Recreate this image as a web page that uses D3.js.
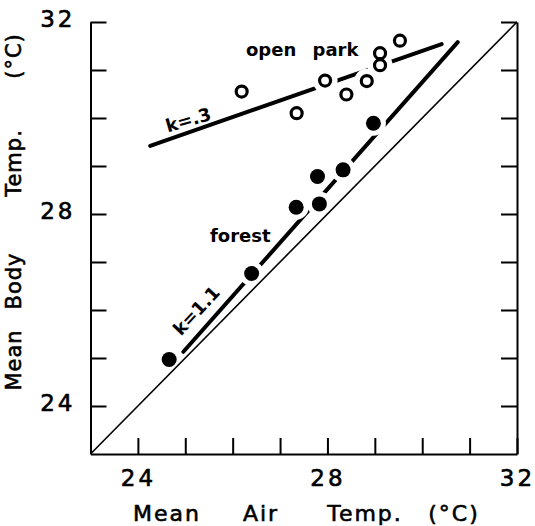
<!DOCTYPE html>
<html>
<head>
<meta charset="utf-8">
<script src="https://cdn.jsdelivr.net/npm/d3@7/dist/d3.min.js"></script>
<style>
  html, body { margin: 0; padding: 0; background: #fff; }
  svg { display: block; }
  text { fill: #000; font-family: "DejaVu Sans", sans-serif; }
</style>
</head>
<body>
<svg id="chart" width="535" height="526"></svg>
<script>
// ---- data ----
const axisDomain = [23, 32];
const tickValues = [24, 25, 26, 27, 28, 29, 30, 31, 32];
const labelledTicks = [24, 28, 32];

const openParkX = [26.19, 27.35, 27.95, 28.40, 28.83, 29.11, 29.11, 29.53];
const openParkY = [30.55, 30.10, 30.78, 30.49, 30.77, 31.10, 31.35, 31.61];

const forestX = [24.66, 26.40, 27.34, 27.83, 27.79, 28.33, 28.97];
const forestY = [24.97, 26.76, 28.14, 28.21, 28.78, 28.92, 29.89];

const parkFitX = [24.26, 30.41];
const parkFitY = [29.42, 31.54];
const forestFitX = [24.96, 30.75];
const forestFitY = [25.13, 31.58];
const identityX = [23, 32];
const identityY = [23, 32];

const xLabelWords = ["Mean", "Air", "Temp.", "(°C)"];
const yLabelWords = ["Mean", "Body", "Temp.", "(°C)"];

// ---- layout ----
const L = 90.5, R = 517, T = 22, B = 454;
const svg = d3.select("#chart");
const x = d3.scaleLinear().domain(axisDomain).range([L, R]);
const y = d3.scaleLinear().domain(axisDomain).range([B, T]);
const fmt = d => labelledTicks.includes(d) ? String(d) : "";

function styleAxis(g) {
  g.select(".domain").attr("stroke", "#000").attr("stroke-width", 2);
  g.selectAll(".tick line").attr("stroke", "#000").attr("stroke-width", 2);
  g.selectAll(".tick text").attr("fill", "#000")
    .attr("stroke", "#000").attr("stroke-width", 0.6)
    .style("font-family", "'DejaVu Sans', sans-serif")
    .style("font-size", "23px").style("letter-spacing", "3px");
}

svg.append("g").attr("transform", `translate(0,${B})`)
  .call(d3.axisBottom(x).tickValues(tickValues).tickSizeInner(-16).tickSizeOuter(0).tickPadding(16).tickFormat(fmt))
  .call(styleAxis);
svg.append("g").attr("transform", `translate(${L},0)`)
  .call(d3.axisLeft(y).tickValues(tickValues).tickSizeInner(-16).tickSizeOuter(0).tickPadding(15).tickFormat(fmt))
  .call(styleAxis)
  .call(g => g.selectAll(".tick text").attr("dy", "0.2em"));
svg.append("g").attr("transform", `translate(${R},0)`)
  .call(d3.axisRight(y).tickValues(tickValues).tickSizeInner(-16).tickSizeOuter(0).tickFormat(() => ""))
  .call(styleAxis);

const line = d3.line().x(d => x(d[0])).y(d => y(d[1]));

// fitted lines
svg.append("path").datum(d3.zip(parkFitX, parkFitY)).attr("d", line)
  .attr("stroke", "#000").attr("stroke-width", 4).attr("fill", "none").attr("stroke-linecap", "round");
svg.append("path").datum(d3.zip(forestFitX, forestFitY)).attr("d", line)
  .attr("stroke", "#000").attr("stroke-width", 4).attr("fill", "none").attr("stroke-linecap", "round");

// white halos that break the lines around the points
const allPts = d3.zip(openParkX, openParkY).concat(d3.zip(forestX, forestY));
svg.append("g").selectAll("circle").data(allPts).join("circle")
  .attr("cx", d => x(d[0])).attr("cy", d => y(d[1])).attr("r", 12.5).attr("fill", "#fff");

// identity line
svg.append("path").datum(d3.zip(identityX, identityY)).attr("d", line)
  .attr("stroke", "#000").attr("stroke-width", 1.6).attr("fill", "none");

// points
svg.append("g").selectAll("circle").data(d3.zip(openParkX, openParkY)).join("circle")
  .attr("cx", d => x(d[0])).attr("cy", d => y(d[1])).attr("r", 5.5)
  .attr("fill", "#fff").attr("stroke", "#000").attr("stroke-width", 3.2);
svg.append("g").selectAll("circle").data(d3.zip(forestX, forestY)).join("circle")
  .attr("cx", d => x(d[0])).attr("cy", d => y(d[1])).attr("r", 7.5).attr("fill", "#000");

// annotations
svg.append("text").attr("x", 246).attr("y", 56)
  .style("font-size", "18px").style("font-weight", "bold").style("word-spacing", "10px")
  .text("open park");
svg.append("text").attr("x", 210).attr("y", 242)
  .style("font-size", "18px").style("font-weight", "bold")
  .text("forest");
svg.append("text").attr("transform", "translate(190,126) rotate(-16)")
  .attr("text-anchor", "middle")
  .style("font-size", "18px").style("font-weight", "bold")
  .text("k=.3");
svg.append("text").attr("transform", "translate(201,315) rotate(-47)")
  .attr("text-anchor", "middle")
  .style("font-size", "18px").style("font-weight", "bold")
  .text("k=1.1");

// axis titles
const xWordCenters = [167, 261, 365, 454];
svg.append("g").selectAll("text").data(xLabelWords).join("text")
  .attr("x", (d, i) => xWordCenters[i]).attr("y", 521)
  .attr("text-anchor", "middle")
  .attr("stroke", "#000").attr("stroke-width", 0.6)
  .style("font-size", "22px").style("letter-spacing", "2px")
  .text(d => d);
const yWordCenters = [360, 281, 163, 56];
svg.append("g").selectAll("text").data(yLabelWords).join("text")
  .attr("transform", (d, i) => `translate(21,${yWordCenters[i]}) rotate(-90)`)
  .attr("text-anchor", "middle")
  .attr("stroke", "#000").attr("stroke-width", 0.6)
  .style("font-size", "21px").style("letter-spacing", "1px")
  .text(d => d);
</script>
</body>
</html>
